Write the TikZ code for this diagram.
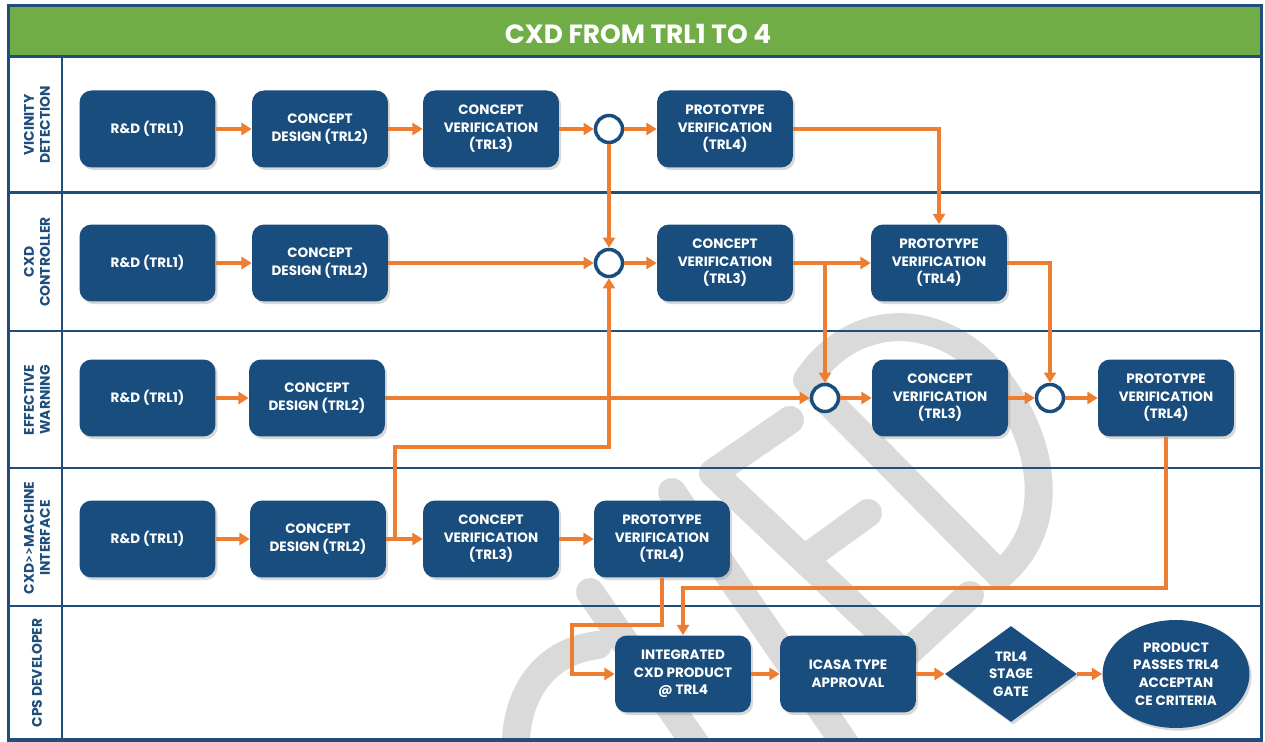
\documentclass[tikz,border=0pt]{standalone}
\usepackage{fontspec}
\setmainfont{Poppins}
\newfontfamily\gtfont{Lato}
\usetikzlibrary{arrows.meta,shapes.geometric,shadows}
\definecolor{boxblue}{RGB}{24,77,126}
\definecolor{frameblue}{RGB}{30,78,121}
\definecolor{flow}{RGB}{237,125,49}
\definecolor{titlegreen}{RGB}{112,173,71}
\definecolor{wm}{RGB}{218,218,218}
\begin{document}
\begin{tikzpicture}[x=0.02cm,y=-0.02cm,
  box/.style={rectangle, rounded corners=0.24cm, fill=boxblue, text=white,
    font=\bfseries\fontsize{7.7}{10}\selectfont, align=center,
    minimum width=2.72cm, minimum height=1.54cm, inner sep=1pt,
    drop shadow={shadow xshift=1.2pt, shadow yshift=-1.5pt, opacity=0.3}},
  gate/.style={diamond, fill=boxblue, text=white, aspect=1.37,
    font=\bfseries\fontsize{7.7}{10}\selectfont, align=center,
    minimum width=2.64cm, minimum height=1.92cm, inner sep=0pt,
    drop shadow={shadow xshift=1.2pt, shadow yshift=-1.5pt, opacity=0.3}},
  goal/.style={ellipse, fill=boxblue, text=white,
    font=\bfseries\fontsize{7.7}{10}\selectfont, align=center,
    minimum width=2.94cm, minimum height=2.16cm, inner sep=0pt,
    drop shadow={shadow xshift=1.2pt, shadow yshift=-1.5pt, opacity=0.3}},
  junction/.style={circle, draw=boxblue, line width=2pt, fill=white,
    minimum size=0.54cm, inner sep=0pt},
  flowarrow/.style={draw=flow, line width=1.9pt, -{Triangle[length=5.8pt,width=6.8pt]}},
  lanelabel/.style={text=frameblue, font=\bfseries\fontsize{7.9}{9.2}\selectfont,
    align=center, rotate=90},
  sep/.style={draw=frameblue, line width=1.7pt},
  wmark/.style={draw=wm, line width=0.56cm, line cap=round, line join=round},
]
\useasboundingbox (0,0) rectangle (1265,742);
\fill[white] (0,0) rectangle (1265,742);

% watermark
\begin{scope}
\clip (10,58) rectangle (1260,739);
\draw[wmark] (516,760) .. controls (512,700) and (540,652) .. (598,645);
\draw[wmark] (590,592) -- (708,762);
\draw[wmark] (672,492) -- (848,748);
\draw[wmark] (790,420) -- (713,473) -- (905,655) -- (970,595);
\draw[wmark] (810,555) -- (868,513);
\draw[wmark] (1000,575) -- (807,380) .. controls (850,315) and (930,310) .. (985,365)
  .. controls (1040,425) and (1065,520) .. (1000,575);
\end{scope}

% title bar and frame
\fill[titlegreen] (9,7) rectangle (1261,56);
\node[text=white, font=\bfseries\fontsize{15}{18}\selectfont] (title) at (638,34) {CXD FROM TRL1 TO 4};
\draw[sep] (8,57) -- (1262,57);
\draw[sep] (8,193) -- (1262,193);
\draw[sep] (8,331) -- (1262,331);
\draw[sep] (8,468) -- (1262,468);
\draw[sep] (8,606) -- (1262,606);
\draw[sep] (62,57) -- (62,740);
\draw[frameblue, line width=2pt] (8.5,5.5) rectangle (1261.5,740);

% lane labels
\node[lanelabel] (l1) at (37,125) {VICINITY\\DETECTION};
\node[lanelabel] (l2) at (37,262) {CXD\\CONTROLLER};
\node[lanelabel] (l3) at (37,400) {EFFECTIVE\\WARNING};
\node[lanelabel] (l4) at (37,538) {CXD{\gtfont>\kern0.3pt>}MACHINE\\INTERFACE};
\node[lanelabel] (l5) at (37,673) {CPS DEVELOPER};

% lane 1
\node[box] (a1) at (147.5,129) {R\&D (TRL1)};
\node[box] (b1) at (320,129) {CONCEPT\\DESIGN (TRL2)};
\node[box] (c1) at (491,129) {CONCEPT\\VERIFICATION\\(TRL3)};
\node[junction] (j1) at (609,129) {};
\node[box] (d1) at (725,129) {PROTOTYPE\\VERIFICATION\\(TRL4)};
% lane 2
\node[box] (a2) at (147.5,263) {R\&D (TRL1)};
\node[box] (b2) at (320,263) {CONCEPT\\DESIGN (TRL2)};
\node[junction] (j2) at (609,263) {};
\node[box] (c2) at (725,263) {CONCEPT\\VERIFICATION\\(TRL3)};
\node[box] (d2) at (939,263) {PROTOTYPE\\VERIFICATION\\(TRL4)};
% lane 3
\node[box] (a3) at (147.5,398) {R\&D (TRL1)};
\node[box] (b3) at (317,398) {CONCEPT\\DESIGN (TRL2)};
\node[junction] (j3) at (825,398) {};
\node[box] (c3) at (940,398) {CONCEPT\\VERIFICATION\\(TRL3)};
\node[junction] (j4) at (1050,398) {};
\node[box] (d3) at (1166,398) {PROTOTYPE\\VERIFICATION\\(TRL4)};
% lane 4
\node[box] (a4) at (147.5,539) {R\&D (TRL1)};
\node[box] (b4) at (318,539) {CONCEPT\\DESIGN (TRL2)};
\node[box] (c4) at (491,539) {CONCEPT\\VERIFICATION\\(TRL3)};
\node[box] (d4) at (662,539) {PROTOTYPE\\VERIFICATION\\(TRL4)};
% lane 5
\node[box] (e) at (683,674) {INTEGRATED\\CXD PRODUCT\\@ TRL4};
\node[box] (f) at (848,674) {ICASA TYPE\\APPROVAL};
\node[gate] (g) at (1011,674) {TRL4\\STAGE\\GATE};
\node[goal] (h) at (1176,674) {PRODUCT\\PASSES TRL4\\ACCEPTAN\\CE CRITERIA};

\coordinate (k1) at (395,447);
\coordinate (k2) at (572,625);
\coordinate (k3) at (683,588);

% connectors lane 1
\draw[flowarrow] (a1) -- (b1);
\draw[flowarrow] (b1) -- (c1);
\draw[flowarrow] (c1) -- (j1);
\draw[flowarrow] (j1) -- (d1);
\draw[flowarrow] (d1) -| (d2);
\draw[flowarrow] (j1) -- (j2);
% lane 2
\draw[flowarrow] (a2) -- (b2);
\draw[flowarrow] (b2) -- (j2);
\draw[flowarrow] (j2) -- (c2);
\draw[flowarrow] (c2) -- (d2);
\draw[flowarrow] (c2.east -| j3) -- (j3);
\draw[flowarrow] (d2) -| (j4);
% lane 3
\draw[flowarrow] (a3) -- (b3);
\draw[flowarrow] (b3) -- (j3);
\draw[flowarrow] (j3) -- (c3);
\draw[flowarrow] (c3) -- (j4);
\draw[flowarrow] (j4) -- (d3);
% lane 4
\draw[flowarrow] (a4) -- (b4);
\draw[flowarrow] (b4) -- (c4);
\draw[flowarrow] (b4.east -| k1) -- (k1) -| (j2);
\draw[flowarrow] (c4) -- (d4);
\draw[flowarrow] (d4) |- (k2) |- (e);
\draw[flowarrow] (d3) |- (k3) -- (e);
% lane 5
\draw[flowarrow] (e) -- (f);
\draw[flowarrow] (f) -- (g);
\draw[flowarrow] (g) -- (h);
\end{tikzpicture}
\end{document}
